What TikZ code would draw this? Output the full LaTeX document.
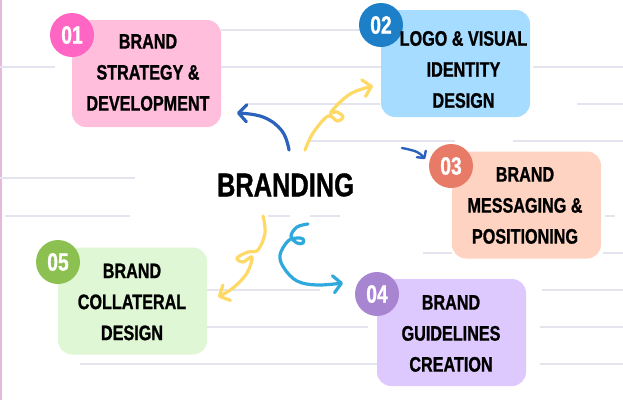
\documentclass[tikz,border=0pt]{standalone}
\usepackage{fontspec}
\usetikzlibrary{arrows.meta}
\newfontfamily\brandfont[FakeStretch=.77,FakeBold=1]{Liberation Sans}
\definecolor{rulegray}{HTML}{E3E4EE}
\definecolor{marginpink}{HTML}{E5B8DC}
\definecolor{yellowarrow}{HTML}{FFD966}
\definecolor{bluearrow}{HTML}{2B62BC}
\definecolor{skyarrow}{HTML}{2FA8DC}
\definecolor{pinkcard}{HTML}{FFBFDC}
\definecolor{pinkdot}{HTML}{FF66C4}
\definecolor{bluecard}{HTML}{A6DCFF}
\definecolor{bluedot}{HTML}{1C7FC8}
\definecolor{peachcard}{HTML}{FFD3C2}
\definecolor{peachdot}{HTML}{E87A68}
\definecolor{lilaccard}{HTML}{DEC9FF}
\definecolor{lilacdot}{HTML}{A885D0}
\definecolor{greencard}{HTML}{DFF7D4}
\definecolor{greendot}{HTML}{8CC152}
\tikzset{
  cardbox/.style={minimum width=149pt, minimum height=107pt, inner sep=0pt, rounded corners=14pt, fill=#1},
  numdot/.style={circle, minimum size=44pt, inner sep=0pt, fill=#1, text=white, font=\brandfont\bfseries\fontsize{25}{25}\selectfont},
  cardtext/.style={align=center, inner sep=0pt, font=\brandfont\bfseries\fontsize{21}{31}\selectfont},
  curl/.style={draw=#1, line width=3.2pt, line cap=round, line join=round, -{Straight Barb[length=8pt,width=17pt,round]}}
}
\begin{document}
\begin{tikzpicture}[x=1pt, y=-1pt]
  \useasboundingbox (0,0) rectangle (623,400);
  % ruled paper
  \fill[marginpink] (0,0) rectangle (2,400);
  \foreach \ya/\xa/\xb in {30/221/360, 67/0/55, 67/221/381, 67/533/623, 104/246/380, 104/577/623,
      141/308/455, 141/513/623, 178/0/135, 216/5/130, 216/268/290, 216/310/340, 216/605/615,
      253/423/452, 253/603/623, 290/207/320, 290/542/623, 327/207/368, 327/540/623,
      364/80/377, 364/540/623}
    \draw[rulegray, line width=1.2pt] (\xa,\ya) -- (\xb,\ya);

  % cards
  \node[cardbox=pinkcard] (strategy) at (146.5,73.5) {};
  \node[cardbox=bluecard] (logo) at (455.5,63.5) {};
  \node[cardbox=peachcard] (messaging) at (526.5,205) {};
  \node[cardbox=lilaccard] (guidelines) at (451.5,332.5) {};
  \node[cardbox=greencard] (collateral) at (132.5,301) {};

  \node[numdot=pinkdot] (one) at (72,35) {01};
  \node[numdot=bluedot] (two) at (381,25) {02};
  \node[numdot=peachdot] (three) at (451,166) {03};
  \node[numdot=lilacdot] (four) at (377,294) {04};
  \node[numdot=greendot] (five) at (58,262) {05};

  \node[cardtext] (strategytext) at (148,72.5) {BRAND\\STRATEGY \&\\DEVELOPMENT};
  \node[cardtext] (logotext) at (463.5,69.5) {LOGO \& VISUAL\\IDENTITY\\DESIGN};
  \node[cardtext] (messagingtext) at (525,205.5) {BRAND\\MESSAGING \&\\POSITIONING};
  \node[cardtext] (guidelinestext) at (451,333.5) {BRAND\\GUIDELINES\\CREATION};
  \node[cardtext] (collateraltext) at (132,302) {BRAND\\COLLATERAL\\DESIGN};

  \node[inner sep=0pt, font=\brandfont\bfseries\fontsize{33}{33}\selectfont] (branding) at (285.5,185) {BRANDING};

  % arrow ends
  \coordinate (bluestart) at (289,150);
  \coordinate (bluetip) at (237,113);
  \coordinate (yellowstart) at (305,150);
  \coordinate (yellowtip) at (373,86);
  \coordinate (smallstart) at (402,148);
  \coordinate (smalltip) at (425,159);
  \coordinate (goldstart) at (263,216);
  \coordinate (goldtip) at (218,297);
  \coordinate (skystart) at (308,224);
  \coordinate (skytip) at (343,283);

  \draw[curl=bluearrow] plot[smooth, tension=.7] coordinates {(bluestart) (282,131) (263,117) (bluetip)};
  \draw[curl=yellowarrow] plot[smooth, tension=.6] coordinates {(yellowstart) (313,133) (328,116) (337,121) (343,117) (337,112) (331,112) (350,94) (yellowtip)};
  \draw[curl=bluearrow, line width=2.4pt, -{Straight Barb[length=5pt,width=11pt,round]}] plot[smooth, tension=.7] coordinates {(smallstart) (417,152) (smalltip)};
  \draw[curl=yellowarrow] plot[smooth, tension=.6] coordinates {(goldstart) (265,233) (258,250) (248,252) (237,258) (243,262) (252,257) (247,273) (233,288) (goldtip)};
  \draw[curl=skyarrow] plot[smooth, tension=.6] coordinates {(skystart) (297,227) (291,236) (297,243) (303,243) (303,239) (297,238) (288,241) (280,255) (284,268) (297,281) (317,285) (skytip)};
\end{tikzpicture}
\end{document}
